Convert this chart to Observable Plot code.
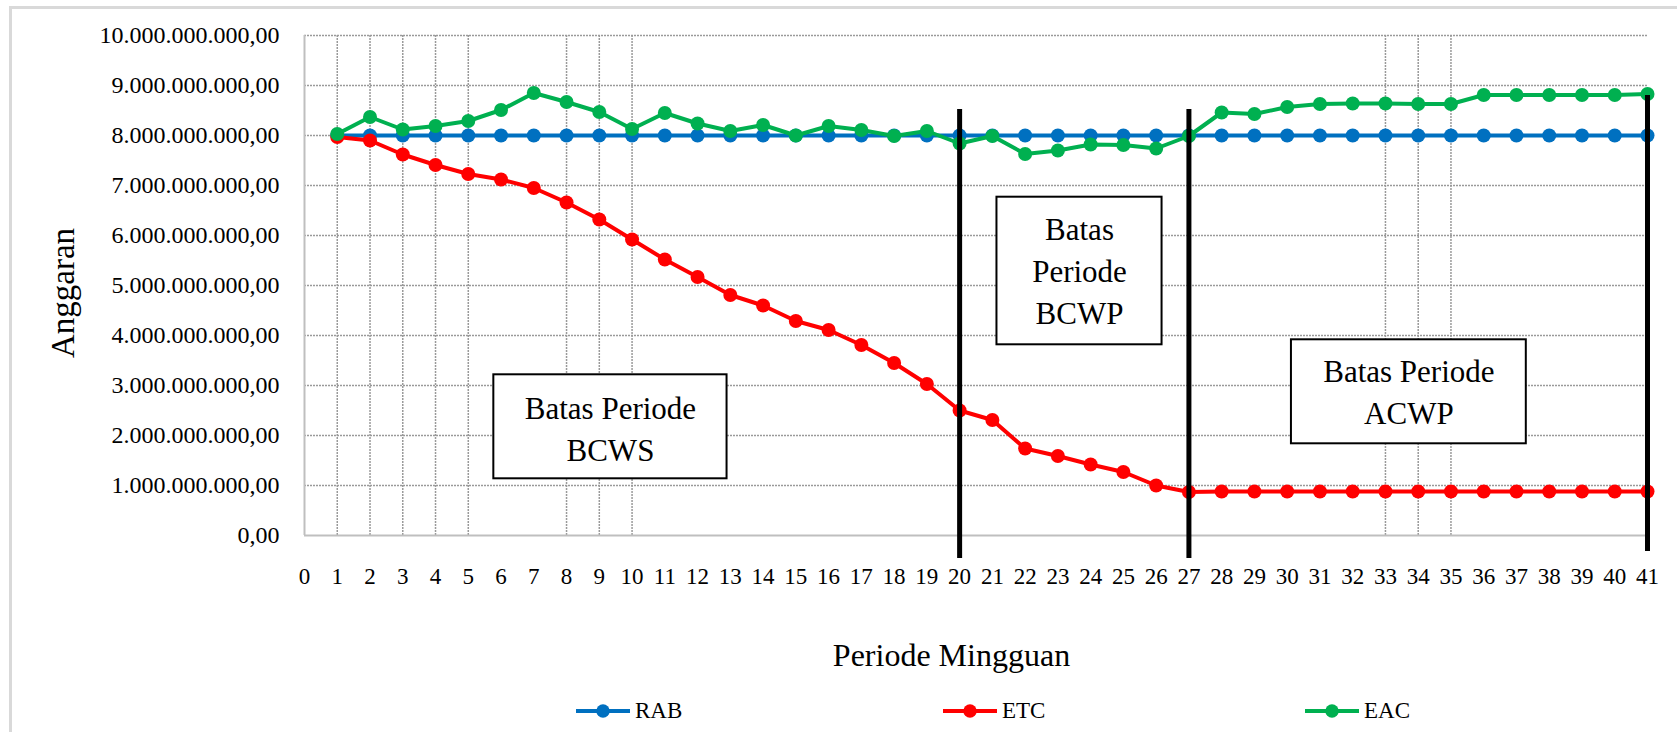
<!DOCTYPE html>
<html>
<head>
<meta charset="utf-8">
<script src="https://cdn.jsdelivr.net/npm/d3@7"></script>
<script src="https://cdn.jsdelivr.net/npm/@observablehq/plot@0.6"></script>
<style>
  html, body { margin: 0; padding: 0; background: #fff; }
  body { width: 1677px; height: 732px; position: relative; overflow: hidden;
         font-family: "Liberation Serif", "Times New Roman", serif; }
  #frame { position: absolute; left: 9px; top: 6px; width: 1800px; height: 900px;
           border-left: 3px solid #d9d9d9; border-top: 3px solid #d9d9d9; pointer-events: none; z-index: 2; }
  #legend { position: relative; height: 42px; width: 1677px; }
  .item { position: absolute; top: 0; height: 42px; display: flex; align-items: center;
          font-size: 23px; color: #000; }
  .item svg { margin-right: 5px; }
</style>
</head>
<body>
<div id="frame"></div>
<div id="chart"></div>
<div id="legend"></div>
<script>
// ---- data ----
const weeks = [1,2,3,4,5,6,7,8,9,10,11,12,13,14,15,16,17,18,19,20,21,22,23,24,25,26,27,28,29,30,31,32,33,34,35,36,37,38,39,40,41];
const rab = [8.0e9,8.0e9,8.0e9,8.0e9,8.0e9,8.0e9,8.0e9,8.0e9,8.0e9,8.0e9,8.0e9,8.0e9,8.0e9,8.0e9,8.0e9,8.0e9,8.0e9,8.0e9,8.0e9,8.0e9,8.0e9,8.0e9,8.0e9,8.0e9,8.0e9,8.0e9,8.0e9,8.0e9,8.0e9,8.0e9,8.0e9,8.0e9,8.0e9,8.0e9,8.0e9,8.0e9,8.0e9,8.0e9,8.0e9,8.0e9,8.0e9];
const etc = [7.97e9,7.90e9,7.62e9,7.41e9,7.23e9,7.12e9,6.95e9,6.66e9,6.32e9,5.92e9,5.52e9,5.17e9,4.81e9,4.60e9,4.29e9,4.11e9,3.81e9,3.45e9,3.03e9,2.50e9,2.31e9,1.74e9,1.59e9,1.42e9,1.27e9,1.00e9,0.87e9,0.88e9,0.88e9,0.88e9,0.88e9,0.88e9,0.88e9,0.88e9,0.88e9,0.88e9,0.88e9,0.88e9,0.88e9,0.88e9,0.88e9];
const eac = [8.03e9,8.37e9,8.12e9,8.19e9,8.29e9,8.51e9,8.85e9,8.67e9,8.47e9,8.13e9,8.45e9,8.24e9,8.09e9,8.21e9,8.00e9,8.19e9,8.11e9,7.99e9,8.09e9,7.84e9,7.99e9,7.63e9,7.70e9,7.82e9,7.81e9,7.74e9,7.99e9,8.46e9,8.43e9,8.57e9,8.63e9,8.64e9,8.64e9,8.63e9,8.63e9,8.81e9,8.81e9,8.81e9,8.81e9,8.81e9,8.83e9];
const seriesNames = ["RAB", "ETC", "EAC"];
const seriesColors = ["#0070c0", "#ff0000", "#00b050"];
const xTicks = [0,1,2,3,4,5,6,7,8,9,10,11,12,13,14,15,16,17,18,19,20,21,22,23,24,25,26,27,28,29,30,31,32,33,34,35,36,37,38,39,40,41];
const yTicks = [0,1e9,2e9,3e9,4e9,5e9,6e9,7e9,8e9,9e9,10e9];
const xGridWeeks = [1,2,3,4,5,8,9,10,33,34,35];
const yGrid = [1e9,2e9,3e9,4e9,5e9,6e9,7e9,8e9,9e9,10e9];
const yTitle = "Anggaran";
const xTitle = "Periode Mingguan";
// period boundary rules (week, top value, bottom value)
const boundaryWeeks = [20, 27, 41];
const boundaryTop = [8.52e9, 8.52e9, 8.8e9];
const boundaryBottom = [-0.46e9, -0.46e9, -0.32e9];
// annotation boxes (in data units)
const boxLabels = ["Batas Periode\nBCWS", "Batas\nPeriode\nBCWP", "Batas Periode\nACWP"];
const boxX1 = [5.78, 21.14, 30.13];
const boxX2 = [12.90, 26.18, 37.30];
const boxY1 = [1.134e9, 3.814e9, 1.834e9];
const boxY2 = [3.214e9, 6.766e9, 3.914e9];
const boxTextY = [2.18e9, 5.334e9, 2.92e9];

// ---- build tables ----
const seriesValues = [rab, etc, eac];
const rows = [];
seriesValues.forEach((vals, s) => weeks.forEach((w, i) => rows.push({series: seriesNames[s], week: w, value: vals[i]})));
const boundaries = boundaryWeeks.map((w, i) => ({week: w, top: boundaryTop[i], bottom: boundaryBottom[i]}));
const boxes = boxLabels.map((t, i) => ({text: t, x1: boxX1[i], x2: boxX2[i], y1: boxY1[i], y2: boxY2[i], cx: (boxX1[i] + boxX2[i]) / 2, ty: boxTextY[i]}));

const fmt = d3.formatLocale({decimal: ",", thousands: ".", grouping: [3], currency: ["", ""]}).format(",.2f");
const serif = "'Liberation Serif', 'Times New Roman', serif";
const gridStyle = {stroke: "#9a9a9a", strokeWidth: 1.5, strokeDasharray: "2,1", strokeOpacity: 1};

const seriesMarks = [];
seriesNames.forEach((name, s) => {
  const d = rows.filter(r => r.series === name);
  seriesMarks.push(Plot.line(d, {x: "week", y: "value", stroke: seriesColors[s], strokeWidth: 4}));
  seriesMarks.push(Plot.dot(d, {x: "week", y: "value", fill: seriesColors[s], r: 7, stroke: "none"}));
});

const chart = Plot.plot({
  width: 1677,
  height: 690,
  marginLeft: 304,
  marginRight: 30,
  marginTop: 35,
  marginBottom: 155,
  x: {domain: [0, 41]},
  y: {domain: [0, 10e9]},
  style: {fontFamily: serif, background: "transparent", color: "#000", overflow: "visible"},
  marks: [
    Plot.ruleY(yGrid, gridStyle),
    Plot.ruleX(xGridWeeks, {...gridStyle, y1: 0, y2: 10e9}),
    Plot.ruleX([0], {y1: 0, y2: 10e9, stroke: "#bfbfbf", strokeWidth: 2}),
    Plot.ruleY([0], {stroke: "#bfbfbf", strokeWidth: 2}),
    Plot.axisY({ticks: yTicks, tickFormat: fmt, tickSize: 0, tickPadding: 25, fontSize: 24, label: null, fill: "#000"}),
    Plot.axisX({ticks: xTicks, tickFormat: d => String(d), tickSize: 0, tickPadding: 32, fontSize: 23, label: null, fill: "#000"}),
    Plot.rect(boxes, {x1: "x1", x2: "x2", y1: "y1", y2: "y2", fill: "white", stroke: "#000", strokeWidth: 2}),
    Plot.text(boxes, {x: "cx", y: "ty", text: "text", fontSize: 31, lineHeight: 1.35, fill: "#000", lineAnchor: "middle", textAnchor: "middle"}),
    ...seriesMarks,
    Plot.ruleX(boundaries, {x: "week", y1: "top", y2: "bottom", stroke: "#000", strokeWidth: 5}),
    Plot.text([yTitle], {frameAnchor: "left", dx: -241, dy: 7.5, rotate: -90, fontSize: 33, textAnchor: "middle", lineAnchor: "middle", fill: "#000"}),
    Plot.text([xTitle], {frameAnchor: "bottom", dx: -24.5, dy: 120, fontSize: 32, textAnchor: "middle", lineAnchor: "middle", fill: "#000"})
  ]
});
document.getElementById("chart").appendChild(chart);

// ---- legend ----
const legend = document.getElementById("legend");
const legendLeft = [576, 943, 1305];
seriesNames.forEach((name, s) => {
  const item = document.createElement("div");
  item.className = "item";
  item.style.left = legendLeft[s] + "px";
  item.innerHTML = `<svg width="54" height="16"><line x1="0" y1="8" x2="54" y2="8" stroke="${seriesColors[s]}" stroke-width="4"/><circle cx="27" cy="8" r="6.7" fill="${seriesColors[s]}"/></svg><span>${name}</span>`;
  legend.appendChild(item);
});
</script>
</body>
</html>
